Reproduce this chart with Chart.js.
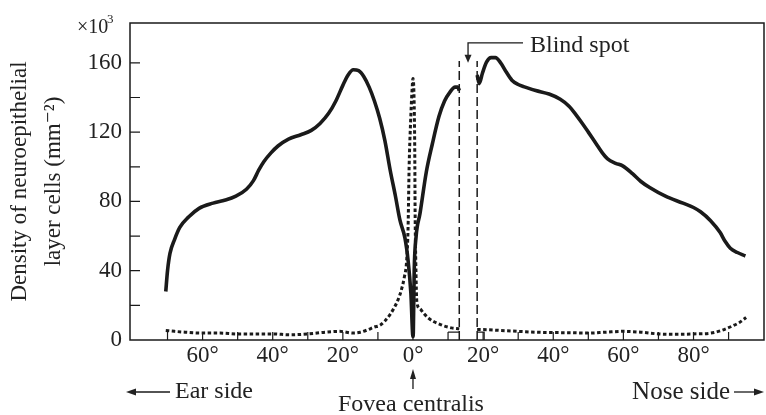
<!DOCTYPE html>
<html>
<head>
<meta charset="utf-8">
<script src="https://cdn.jsdelivr.net/npm/chart.js@4/dist/chart.umd.min.js"></script>
<style>
  body { margin: 0; background: #fff; }
</style>
</head>
<body>
<canvas id="retina" width="766" height="415"></canvas>
<script>
// Rods (solid) - eccentricity in degrees, ear side negative, density x10^3 / mm^2
const rodAngle = [-70.5, -70, -69.3, -68, -66.5, -64, -61, -57, -54, -50.5, -47.5, -45.5, -44, -42.5, -40.5, -38.5, -35.5, -32, -29, -26.5, -24, -22, -20, -18.5, -17, -15.5, -14, -12.5, -11, -9.5, -8, -6.5, -5, -3.7, -2.3, -1.4, -0.6, 0,
  0.1, 0.35, 0.9, 2, 3.8, 5.5, 7.4, 9, 10.5, 12, 12.8, 13.2,
  15,
  18.3, 18.9, 19.8, 21, 22.3, 23.5, 25, 26.5, 28.2, 30, 32, 35, 38.8, 42, 44.5, 46.5, 48.3, 50, 52, 54, 55.5, 57.8, 59.8, 62.6, 65, 67.5, 72, 77, 80, 82, 84.8, 87.6, 89, 90.5, 92.5, 94.8];
const rodDensity = [28, 40, 50, 58, 65, 71, 76, 79, 80.5, 83, 87, 92, 98, 103, 108, 112, 116, 118.5, 121, 125, 131, 138, 147, 153, 156, 155.5, 152, 146, 138, 128, 115, 98, 83, 69, 59, 46, 27, 2,
  5, 40, 60, 73, 97, 113, 129, 138, 143, 146, 146, 144,
  null,
  153, 148, 154, 160.5, 163, 163, 160, 155, 150, 147.5, 146, 144, 142, 139, 135, 130, 125, 120, 114, 108, 104.5, 102, 100.5, 96, 91.5, 88, 83, 79, 76.5, 74, 69, 62, 57, 53, 50.5, 48.5];

// Cones (dotted)
const coneAngle = [-70.5, -68, -65, -60, -55, -50, -45, -40, -35, -30, -25, -21, -17, -15, -13, -11, -9.4, -8, -6.6, -5.4, -4.3, -3.3, -2.5, -1.8, -1.4, -1.1, -0.7, -0.3, 0,
  0.3, 0.5, 0.6, 0.8, 1.1, 2, 3, 4.5, 6, 7.7, 9, 11, 13.2,
  15,
  18.3, 20, 25, 30, 35, 40, 45, 50, 55, 60, 65, 70, 75, 80, 85, 88, 91, 93, 95];
const coneDensity = [5.5, 5, 4.5, 4, 4, 3.5, 3.5, 3.5, 3, 3.5, 4.5, 5, 4, 4.5, 5.8, 7.5, 8.5, 11, 14.5, 18.5, 23, 29, 36, 46, 65, 100, 125, 143, 151,
  140, 110, 75, 45, 22, 18, 15.5, 12.5, 10.5, 9, 8, 7, 6.5,
  null,
  6, 6, 5.5, 5, 4.5, 4.3, 4.2, 4, 4.5, 5, 4.5, 3.5, 3.3, 3.5, 4, 5.5, 8, 10, 13];

// Blind spot edges
const blindEdges = [13.2, 18.3];
const blindTop = 161;
const blindBoxTop = 4.5;

// Axis ticks
const xTickValues = [-60, -40, -20, 0, 20, 40, 60, 80];
const xInnerTicks = [-70, -60, -50, -40, -30, -20, -10, 0, 10, 20, 30, 40, 50, 60, 70, 80, 90];
const yTickValues = [0, 40, 80, 120, 160];
const yInnerTicks = [20, 40, 60, 80, 100, 120, 140, 160];

const ink = '#1a1a1a';
const textInk = '#222';
const serif = '"Liberation Serif", "DejaVu Serif", serif';

function pairs(xs, ys) {
    return xs.map((x, i) => ({ x: x, y: ys[i] }));
}

// frame, inward ticks and the annotation texts
const framePlugin = {
    id: 'frame',
    afterDraw(chart) {
        const { ctx, chartArea: a, scales } = chart;
        const xs = scales.x, ys = scales.y;
        ctx.save();
        ctx.strokeStyle = ink;
        ctx.fillStyle = textInk;
        ctx.lineWidth = 1.5;
        ctx.strokeRect(a.left, a.top, a.right - a.left, a.bottom - a.top);

        ctx.lineWidth = 1.2;
        ctx.beginPath();
        yInnerTicks.forEach(v => {
            const py = ys.getPixelForValue(v);
            ctx.moveTo(a.left, py);
            ctx.lineTo(a.left + 10, py);
        });
        xInnerTicks.forEach(v => {
            const px = xs.getPixelForValue(v);
            ctx.moveTo(px, a.bottom);
            ctx.lineTo(px, a.bottom - 8);
        });
        ctx.stroke();

        ctx.textBaseline = 'middle';

        // x10^3
        ctx.font = '20px ' + serif;
        ctx.textAlign = 'left';
        ctx.fillText('\u00d710', 77, 28);
        ctx.font = '13px ' + serif;
        ctx.fillText('3', 107, 20);

        // Blind spot label + arrow
        const bx = xs.getPixelForValue(15.7);
        const lineY = ys.getPixelForValue(171.5);
        const tipY = ys.getPixelForValue(160);
        ctx.lineWidth = 1.3;
        ctx.beginPath();
        ctx.moveTo(523, lineY);
        ctx.lineTo(bx, lineY);
        ctx.lineTo(bx, tipY - 7);
        ctx.stroke();
        ctx.beginPath();
        ctx.moveTo(bx - 3.5, tipY - 8);
        ctx.lineTo(bx + 3.5, tipY - 8);
        ctx.lineTo(bx, tipY);
        ctx.closePath();
        ctx.fill();
        ctx.font = '24px ' + serif;
        ctx.fillText('Blind spot', 530, 46);

        // Ear side
        ctx.beginPath();
        ctx.moveTo(170, 392);
        ctx.lineTo(134, 392);
        ctx.stroke();
        ctx.beginPath();
        ctx.moveTo(126, 392);
        ctx.lineTo(136, 388.5);
        ctx.lineTo(136, 395.5);
        ctx.closePath();
        ctx.fill();
        ctx.fillText('Ear side', 175, 392);

        // Nose side
        ctx.textAlign = 'right';
        ctx.font = '25px ' + serif;
        ctx.fillText('Nose side', 730, 392);
        ctx.beginPath();
        ctx.moveTo(734, 392);
        ctx.lineTo(756, 392);
        ctx.stroke();
        ctx.beginPath();
        ctx.moveTo(764, 392);
        ctx.lineTo(754, 388.5);
        ctx.lineTo(754, 395.5);
        ctx.closePath();
        ctx.fill();

        // Fovea centralis
        const fx = xs.getPixelForValue(0);
        ctx.beginPath();
        ctx.moveTo(fx, 389);
        ctx.lineTo(fx, 376);
        ctx.stroke();
        ctx.beginPath();
        ctx.moveTo(fx, 369);
        ctx.lineTo(fx - 3, 379);
        ctx.lineTo(fx + 3, 379);
        ctx.closePath();
        ctx.fill();
        ctx.textAlign = 'center';
        ctx.font = '24px ' + serif;
        ctx.fillText('Fovea centralis', fx - 2, 405);
        ctx.restore();
    }
};

const chart = new Chart(document.getElementById('retina'), {
    type: 'line',
    data: {
        datasets: [
            {
                label: 'Cones',
                data: pairs(coneAngle, coneDensity),
                borderColor: ink,
                borderWidth: 3,
                borderDash: [3.5, 2.5],
                cubicInterpolationMode: 'monotone',
                pointRadius: 0,
                spanGaps: false
            },
            {
                label: 'Rods',
                data: pairs(rodAngle, rodDensity),
                borderColor: ink,
                borderWidth: 3.6,
                cubicInterpolationMode: 'monotone',
                pointRadius: 0,
                spanGaps: false
            },
            {
                label: 'Blind spot edge 1',
                data: [{ x: blindEdges[0], y: 0 }, { x: blindEdges[0], y: blindTop }],
                borderColor: ink,
                borderWidth: 1.5,
                borderDash: [9, 4],
                pointRadius: 0
            },
            {
                label: 'Blind spot edge 2',
                data: [{ x: blindEdges[1], y: 0 }, { x: blindEdges[1], y: blindTop }],
                borderColor: ink,
                borderWidth: 1.5,
                borderDash: [9, 4],
                pointRadius: 0
            },
            {
                label: 'Blind spot box',
                data: [
                    { x: 10, y: blindBoxTop }, { x: blindEdges[0], y: blindBoxTop }, { x: blindEdges[0], y: null },
                    { x: blindEdges[1], y: blindBoxTop }, { x: 20.3, y: blindBoxTop }, { x: 20.3, y: 0 }
                ],
                borderColor: ink,
                borderWidth: 1.2,
                pointRadius: 0,
                spanGaps: false
            }
        ]
    },
    options: {
        responsive: false,
        animation: false,
        layout: { padding: { top: 23, right: 2, left: 0, bottom: 0 } },
        plugins: {
            legend: { display: false },
            tooltip: { enabled: false }
        },
        scales: {
            x: {
                type: 'linear',
                min: -80.7,
                max: 100.1,
                grid: { display: false, drawTicks: false },
                border: { display: false },
                afterFit(scale) { scale.height = 75; },
                afterBuildTicks(scale) { scale.ticks = xTickValues.map(v => ({ value: v })); },
                ticks: {
                    padding: 2,
                    color: textInk,
                    font: { family: serif, size: 23 },
                    maxRotation: 0,
                    autoSkip: false,
                    callback: v => Math.abs(v) + '\u00b0'
                }
            },
            y: {
                min: 0,
                max: 183,
                grid: { display: false, drawTicks: false },
                border: { display: false },
                afterFit(scale) { scale.width = 130; },
                afterBuildTicks(scale) { scale.ticks = yTickValues.map(v => ({ value: v })); },
                ticks: {
                    padding: 8,
                    color: textInk,
                    font: { family: serif, size: 23 }
                },
                title: {
                    display: true,
                    text: ['Density of neuroepithelial', 'layer cells (mm\u207b\u00b2)'],
                    color: textInk,
                    font: { family: serif, size: 23, lineHeight: 1.48 },
                    padding: { top: 3, bottom: 0 }
                }
            }
        }
    },
    plugins: [framePlugin]
});
</script>
</body>
</html>
